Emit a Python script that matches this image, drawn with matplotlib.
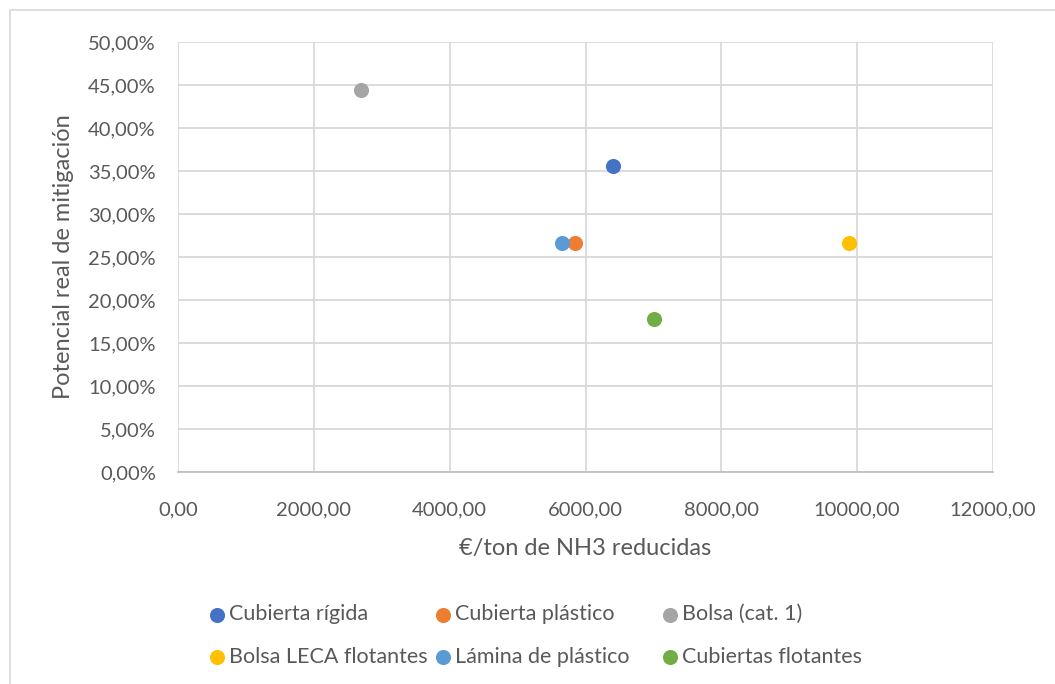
import matplotlib
matplotlib.use('Agg')
import matplotlib.pyplot as plt
from matplotlib.ticker import FuncFormatter, MultipleLocator
from matplotlib.patches import Rectangle

plt.rcParams['font.family'] = ['Lato', 'DejaVu Sans']

# data
series = ['Cubierta rígida', 'Cubierta plástico', 'Bolsa (cat. 1)',
          'Bolsa LECA flotantes', 'Lámina de plástico', 'Cubiertas flotantes']
coste = [6400, 5840, 2690, 9885, 5660, 7005]          # €/ton NH3 reducidas
potencial = [0.3556, 0.2667, 0.4444, 0.2667, 0.2667, 0.1778]
colores = ['#4472C4', '#ED7D31', '#A5A5A5', '#FFC000', '#5B9BD5', '#70AD47']

txt = '#595959'

fig = plt.figure(figsize=(10.55, 6.84), dpi=100)
ax = fig.add_axes([178/1055, 1-472/684, (993-178)/1055, (472-42)/684])

handles = []
for nom, x, y, c in zip(series, coste, potencial, colores):
    h = ax.scatter(x, y, s=118, color=c, label=nom, zorder=3, linewidths=0)
    handles.append(h)

ax.set_xlim(0, 12000)
ax.set_ylim(0, 0.5)
ax.xaxis.set_major_locator(MultipleLocator(2000))
ax.yaxis.set_major_locator(MultipleLocator(0.05))
ax.xaxis.set_major_formatter(FuncFormatter(lambda v, p: ('%.2f' % v).replace('.', ',')))
ax.yaxis.set_major_formatter(FuncFormatter(lambda v, p: ('%.2f%%' % (v*100)).replace('.', ',')))
ax.grid(True, color='#D9D9D9', linewidth=1.3, zorder=0)
ax.set_axisbelow(True)
for s in ['top', 'right', 'left']:
    ax.spines[s].set_visible(False)
ax.spines['bottom'].set_color('#BFBFBF')
ax.spines['bottom'].set_linewidth(1.3)
ax.tick_params(axis='both', length=0, labelsize=14.5, labelcolor=txt)
ax.tick_params(axis='y', pad=16)
ax.tick_params(axis='x', pad=21)

ax.set_xlabel('€/ton de NH3 reducidas', fontsize=17, color=txt, labelpad=14)
ax.set_ylabel('Potencial real de mitigación', fontsize=17, color=txt, labelpad=10)

# legend: Excel uses equal-width columns filled row-wise -> one legend per column
fs = 15.5
col_x = [217, 443, 670]   # marker centres in px
for j, cx in enumerate(col_x):
    idx = [j, j + 3]
    anchor = (cx - fs * 100 / 72 / 2) / 1055
    leg = fig.legend([handles[i] for i in idx], [series[i] for i in idx],
                     loc='center left', bbox_to_anchor=(anchor, 1 - 635.5/684),
                     frameon=False, fontsize=fs, handletextpad=0.06,
                     handlelength=1.0, borderpad=0, borderaxespad=0,
                     labelspacing=1.05, markerscale=1.0)
    for t in leg.get_texts():
        t.set_color(txt)

# chart area border
fig.patches.append(Rectangle((10/1055, -0.01), 1.02, 1-10/684+0.01, transform=fig.transFigure,
                             fill=False, edgecolor='#D9D9D9', linewidth=1.2))

plt.savefig('out.png', dpi=100)
